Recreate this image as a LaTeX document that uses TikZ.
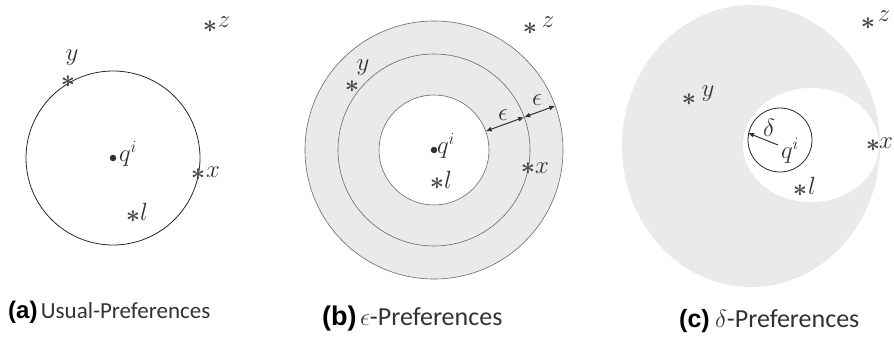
\documentclass[tikz,border=0pt]{standalone}
\usepackage{amsmath}
\usepackage{amssymb}
\usepackage{fontspec}
\usetikzlibrary{positioning, arrows.meta}
\newfontfamily\capfont{Carlito}
\newfontfamily\tagfont{Liberation Sans}
\definecolor{greyfill}{RGB}{234,234,234}
\definecolor{ink}{RGB}{50,50,50}
\definecolor{starc}{RGB}{70,70,70}
\definecolor{ringc}{RGB}{105,105,105}

\begin{document}
\begin{tikzpicture}[x=1pt, y=-1pt,
	every node/.style={inner sep=0pt, text=ink, font=\fontsize{24}{28}\selectfont},
	pt/.style={text=starc},
	dot/.style={circle, fill=ink, minimum size=6.5pt},
	tag/.style={text=black, font=\tagfont\bfseries\fontsize{24}{28}\selectfont},
	captxt/.style={font=\capfont\fontsize{23}{26}\selectfont},
	captxtbig/.style={font=\capfont\fontsize{26}{30}\selectfont},
	>={Latex[length=6pt, width=5pt]}]
		\useasboundingbox (0,0) rectangle (894,337);

		% (a)
		\node[dot] (qa) at (113,158) {};
		\draw[black!85, line width=0.8pt] (qa) circle (87);
		\node (qa-l) at (128,154) {$q^i$};
		\node[pt] (ya) at (68,82) {$\boldsymbol{\ast}$};
		\node (ya-l) at (72,58) {$y$};
		\node[pt] (za) at (210,27) {$\boldsymbol{\ast}$};
		\node (za-l) at (224,22) {$z$};
		\node[pt] (xa) at (198,175) {$\boldsymbol{\ast}$};
		\node (xa-l) at (213,172) {$x$};
		\node[pt] (la) at (133,217) {$\boldsymbol{\ast}$};
		\node (la-l) at (144,212) {$l$};

		% (b)
		\coordinate (cb) at (434,150);
		\fill[greyfill, draw=ringc, line width=0.6pt] (cb) circle (129);
		\draw[ringc, line width=0.6pt] (cb) circle (96);
		\fill[white, draw=ringc, line width=0.6pt] (cb) circle (55);
		\node[dot] (qb) at (cb) {};
		\node (qb-l) at (446,146) {$q^i$};
		\path (cb) ++(-20:55) coordinate (e1) ++(-20:41) coordinate (e2) ++(-20:33) coordinate (e3);
		\draw[ink, line width=1pt, <->] (e1) -- (e2);
		\draw[ink, line width=1pt, <->] (e2) -- (e3);
		\node (eps1) at (503,115) {$\epsilon$};
		\node (eps2) at (537,100) {$\epsilon$};
		\node[pt] (yb) at (352,87) {$\boldsymbol{\ast}$};
		\node (yb-l) at (363,68) {$y$};
		\node[pt] (zb) at (530,29) {$\boldsymbol{\ast}$};
		\node (zb-l) at (548,22) {$z$};
		\node[pt] (xb) at (528,169) {$\boldsymbol{\ast}$};
		\node (xb-l) at (542,168) {$x$};
		\node[pt] (lb) at (437,184) {$\boldsymbol{\ast}$};
		\node (lb-l) at (448,180) {$l$};

		% (c)
		\coordinate (cc) at (751,146);
		\coordinate (cw) at (811,145);
		\fill[greyfill] (cc) ellipse [x radius=129, y radius=141];
		\fill[white] (cw) ellipse [x radius=68, y radius=57];
		\coordinate (qc) at (780,140);
		\draw[black!85, line width=0.8pt] (qc) circle (32);
		\coordinate (dt) at (778,145);
		\coordinate (dh) at (748,133);
		\draw[ink, line width=1pt, ->] (dt) -- (dh);
		\node (del) at (769,128) {$\delta$};
		\node (qc-l) at (790,151) {$q^i$};
		\node[pt] (yc) at (689,100) {$\boldsymbol{\ast}$};
		\node (yc-l) at (708,94) {$y$};
		\node[pt] (zc) at (868,24) {$\boldsymbol{\ast}$};
		\node (zc-l) at (884,16) {$z$};
		\node[pt] (xc) at (873,146) {$\boldsymbol{\ast}$};
		\node (xc-l) at (886,143) {$x$};
		\node[pt] (lc) at (800,191) {$\boldsymbol{\ast}$};
		\node (lc-l) at (812,186) {$l$};

		% captions
		\node[tag, anchor=base west] (capa) at (8,318) {(a)};
		\node[captxt, base right=3pt of capa] (capa-t) {Usual-Preferences};
		\node[tag, font=\tagfont\bfseries\fontsize{27}{30}\selectfont, anchor=base west] (capb) at (322,325) {(b)};
		\node[captxtbig, base right=3pt of capb] (capb-t) {$\epsilon$-Preferences};
		\node[tag, font=\tagfont\bfseries\fontsize{25}{28}\selectfont, anchor=base west] (capc) at (679,327) {(c)};
		\node[captxtbig, base right=5pt of capc] (capc-t) {$\delta$-Preferences};

	\end{tikzpicture}
\end{document}
